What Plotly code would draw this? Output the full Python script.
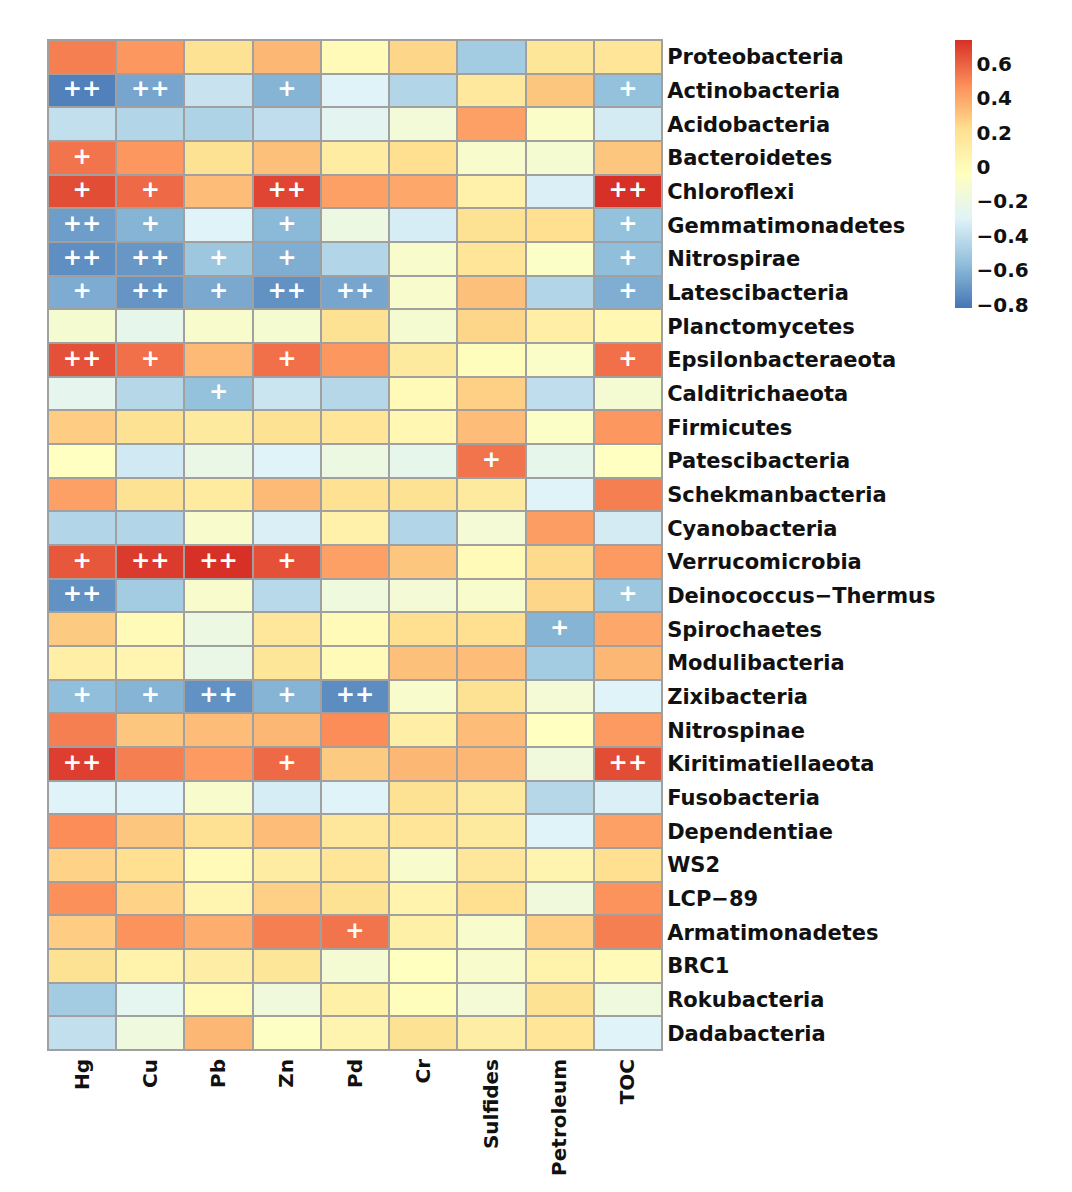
import plotly.graph_objects as go

taxa = ["Proteobacteria", "Actinobacteria", "Acidobacteria", "Bacteroidetes", "Chloroflexi",
        "Gemmatimonadetes", "Nitrospirae", "Latescibacteria", "Planctomycetes", "Epsilonbacteraeota",
        "Calditrichaeota", "Firmicutes", "Patescibacteria", "Schekmanbacteria", "Cyanobacteria",
        "Verrucomicrobia", "Deinococcus−Thermus", "Spirochaetes", "Modulibacteria", "Zixibacteria",
        "Nitrospinae", "Kiritimatiellaeota", "Fusobacteria", "Dependentiae", "WS2",
        "LCP−89", "Armatimonadetes", "BRC1", "Rokubacteria", "Dadabacteria"]

variables = ["Hg", "Cu", "Pb", "Zn", "Pd", "Cr", "Sulfides", "Petroleum", "TOC"]

hg = [0.52, -0.78, -0.40, 0.55, 0.66, -0.68, -0.73, -0.63, -0.12, 0.65, -0.25, 0.28, -0.05, 0.42, -0.45,
      0.63, -0.72, 0.29, 0.10, -0.56, 0.52, 0.70, -0.30, 0.48, 0.26, 0.47, 0.28, 0.20, -0.50, -0.40]
cu = [0.45, -0.65, -0.45, 0.45, 0.58, -0.60, -0.70, -0.71, -0.24, 0.56, -0.44, 0.20, -0.35, 0.20, -0.45,
      0.71, -0.50, 0.00, 0.04, -0.60, 0.30, 0.52, -0.30, 0.30, 0.22, 0.26, 0.46, 0.07, -0.26, -0.18]
pb = [0.20, -0.38, -0.46, 0.20, 0.33, -0.30, -0.52, -0.64, -0.10, 0.34, -0.55, 0.14, -0.22, 0.13, -0.10,
      0.74, -0.10, -0.20, -0.22, -0.72, 0.33, 0.44, -0.10, 0.21, 0.00, 0.04, 0.38, 0.11, 0.00, 0.35]
zn = [0.35, -0.60, -0.41, 0.32, 0.68, -0.58, -0.62, -0.72, -0.12, 0.56, -0.37, 0.20, -0.30, 0.34, -0.32,
      0.65, -0.43, 0.16, 0.17, -0.60, 0.35, 0.58, -0.33, 0.33, 0.12, 0.27, 0.52, 0.17, -0.17, -0.06]
pd_ = [0.00, -0.30, -0.27, 0.12, 0.42, -0.20, -0.45, -0.65, 0.20, 0.45, -0.44, 0.18, -0.20, 0.21, 0.08,
       0.42, -0.18, 0.00, 0.00, -0.74, 0.48, 0.29, -0.30, 0.16, 0.18, 0.20, 0.55, -0.13, 0.09, 0.05]
cr = [0.25, -0.45, -0.15, 0.22, 0.40, -0.33, -0.10, -0.10, -0.12, 0.14, 0.00, 0.03, -0.24, 0.20, -0.45,
      0.30, -0.14, 0.22, 0.32, -0.10, 0.10, 0.35, 0.20, 0.18, -0.10, 0.06, 0.09, -0.04, -0.02, 0.20]
sulfides = [-0.50, 0.15, 0.42, -0.10, 0.08, 0.20, 0.18, 0.32, 0.25, -0.02, 0.27, 0.33, 0.55, 0.14, -0.14,
            0.00, -0.10, 0.22, 0.33, 0.20, 0.33, 0.35, 0.14, 0.14, 0.16, 0.22, -0.10, -0.10, -0.14, 0.11]
petroleum = [0.17, 0.30, -0.08, -0.12, -0.32, 0.22, -0.07, -0.45, 0.10, -0.08, -0.41, -0.07, -0.24, -0.30, 0.43,
             0.24, 0.25, -0.60, -0.50, -0.14, -0.05, -0.17, -0.44, -0.30, 0.05, -0.17, 0.27, 0.07, 0.20, 0.18]
toc = [0.18, -0.55, -0.34, 0.30, 0.74, -0.55, -0.56, -0.62, 0.03, 0.56, -0.13, 0.45, -0.05, 0.52, -0.34,
       0.44, -0.52, 0.40, 0.35, -0.30, 0.44, 0.66, -0.32, 0.42, 0.22, 0.46, 0.52, 0.00, -0.18, -0.30]

# significance marks: (taxon, variable, mark)
sig_taxon = ["Actinobacteria"] * 4 + ["Bacteroidetes"] + ["Chloroflexi"] * 4 + ["Gemmatimonadetes"] * 4 \
    + ["Nitrospirae"] * 5 + ["Latescibacteria"] * 6 + ["Epsilonbacteraeota"] * 4 + ["Calditrichaeota"] \
    + ["Patescibacteria"] + ["Verrucomicrobia"] * 4 + ["Deinococcus−Thermus"] * 2 + ["Spirochaetes"] \
    + ["Zixibacteria"] * 5 + ["Kiritimatiellaeota"] * 3 + ["Armatimonadetes"]
sig_var = ["Hg", "Cu", "Zn", "TOC",
           "Hg",
           "Hg", "Cu", "Zn", "TOC",
           "Hg", "Cu", "Zn", "TOC",
           "Hg", "Cu", "Pb", "Zn", "TOC",
           "Hg", "Cu", "Pb", "Zn", "Pd", "TOC",
           "Hg", "Cu", "Zn", "TOC",
           "Pb",
           "Sulfides",
           "Hg", "Cu", "Pb", "Zn",
           "Hg", "TOC",
           "Petroleum",
           "Hg", "Cu", "Pb", "Zn", "Pd",
           "Hg", "Zn", "TOC",
           "Pd"]
sig_mark = ["++", "++", "+", "+",
            "+",
            "+", "+", "++", "++",
            "++", "+", "+", "+",
            "++", "++", "+", "+", "+",
            "+", "++", "+", "++", "++", "+",
            "++", "+", "+", "+",
            "+",
            "+",
            "+", "++", "++", "+",
            "++", "+",
            "+",
            "+", "+", "++", "+", "++",
            "++", "+", "++",
            "+"]

columns = [hg, cu, pb, zn, pd_, cr, sulfides, petroleum, toc]
z = [[col[i] for col in columns] for i in range(len(taxa))]

colorscale = [[0.0, "#4575B4"], [1 / 6, "#91BFDB"], [2 / 6, "#E0F3F8"], [3 / 6, "#FFFFBF"],
              [4 / 6, "#FEE090"], [5 / 6, "#FC8D59"], [1.0, "#D73027"]]

FONT = "DejaVu Sans"

fig = go.Figure()
fig.add_trace(go.Heatmap(
    z=z, x=variables, y=taxa,
    colorscale=colorscale, zmin=-0.82, zmax=0.74,
    xgap=2, ygap=2,
    colorbar=dict(
        x=(955 - 48) / 614, xanchor="left", xpad=0,
        y=1, yanchor="top", ypad=0,
        thickness=17, thicknessmode="pixels",
        len=268, lenmode="pixels",
        outlinewidth=0,
        tickvals=[-0.8, -0.6, -0.4, -0.2, 0, 0.2, 0.4, 0.6],
        ticktext=["−0.8", "−0.6", "−0.4", "−0.2", "0", "0.2", "0.4", "0.6"],
        ticks="",
        tickfont=dict(family=FONT, size=20, color="#111111", weight="bold"),
    ),
    hoverinfo="skip",
))
fig.add_trace(go.Scatter(
    x=sig_var, y=sig_taxon, text=sig_mark, mode="text",
    textposition="middle center",
    textfont=dict(family=FONT, size=23, color="white", weight="bold"),
    hoverinfo="skip", showlegend=False,
))

fig.update_layout(
    width=1072, height=1192,
    margin=dict(l=40, r=418, t=32, b=150),
    paper_bgcolor="white", plot_bgcolor="#A0A0A0",
    showlegend=False,
    xaxis=dict(
        type="category", tickangle=-90, ticks="", showgrid=False, zeroline=False,
        showline=True, mirror=True, linecolor="#A0A0A0", linewidth=1,
        tickfont=dict(family=FONT, size=20, color="#111111", weight="bold"),
        categoryorder="array", categoryarray=variables,
    ),
    yaxis=dict(
        type="category", side="right", ticks="", showgrid=False, zeroline=False,
        autorange="reversed",
        showline=True, mirror=True, linecolor="#A0A0A0", linewidth=1,
        tickfont=dict(family=FONT, size=21, color="#111111", weight="bold"),
        categoryorder="array", categoryarray=taxa,
    ),
)

fig.write_html("out.html")
